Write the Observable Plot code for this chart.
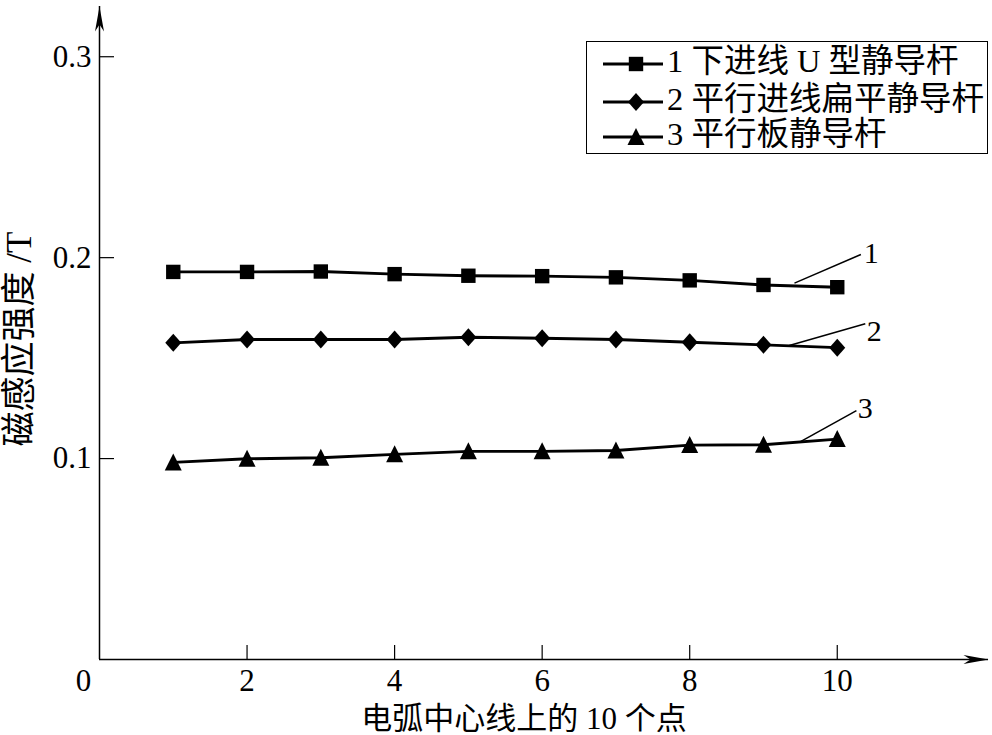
<!DOCTYPE html>
<html><head><meta charset="utf-8">
<script src="https://cdn.jsdelivr.net/npm/d3@7"></script>
<script src="https://cdn.jsdelivr.net/npm/@observablehq/plot@0.6"></script>
<style>
body{margin:0;background:#fff;}
#wrap{position:relative;width:992px;height:735px;overflow:hidden;}
#wrap svg{color:#000;}
.lg{position:absolute;left:586px;top:41px;width:402px;height:113px;border:1.5px solid #000;box-sizing:border-box;background:#fff;}
.lg .row{position:absolute;left:0;height:36px;width:400px;}
.lg .row svg{position:absolute;left:12px;top:0;}
.lg .row span{position:absolute;left:80px;top:-3px;line-height:36px;font-family:"Liberation Serif","Noto Sans CJK SC",serif;font-size:32.5px;white-space:pre;color:#000;}
</style></head><body><div id="wrap"></div>
<script>
// ---- data ----
const points = [1, 2, 3, 4, 5, 6, 7, 8, 9, 10];
const series1 = [0.1929, 0.1929, 0.1931, 0.1918, 0.1910, 0.1908, 0.1902, 0.1887, 0.1864, 0.1853];
const series2 = [0.1576, 0.1593, 0.1593, 0.1593, 0.1604, 0.1599, 0.1593, 0.1579, 0.1566, 0.1552];
const series3 = [0.0981, 0.0999, 0.1004, 0.1021, 0.1036, 0.1036, 0.1040, 0.1067, 0.1069, 0.1097];
const seriesNames = ["1 下进线 U 型静导杆", "2 平行进线扁平静导杆", "3 平行板静导杆"];
const xTicks = [2, 4, 6, 8, 10];
const yTicks = [0.1, 0.2, 0.3];
const xMax = 12.05, yMax = 0.325;
const xLabel = "电弧中心线上的 10 个点";
const yLabel = "磁感应强度 /T";
const calloutLabels = ["1", "2", "3"];
const calloutFrom = [[9.42, 0.1873], [9.35, 0.1563], [9.49, 0.1082]];
const calloutTo = [[10.32, 0.2016], [10.38, 0.1671], [10.26, 0.1239]];
const calloutText = [[10.46, 0.2021], [10.50, 0.1633], [10.38, 0.1249]];

// ---- symbols ----
const sqSym = {draw(c){ const h = 7.2; c.moveTo(-h,-h); c.lineTo(h,-h); c.lineTo(h,h); c.lineTo(-h,h); c.closePath(); }};
const diaSym = {draw(c){ c.moveTo(0,-9); c.lineTo(8,0); c.lineTo(0,9); c.lineTo(-8,0); c.closePath(); }};
const triSym = {draw(c){ c.moveTo(0,-9); c.lineTo(8.5,8); c.lineTo(-8.5,8); c.closePath(); }};
const arrowRight = {draw(c){ c.moveTo(0,0); c.lineTo(-25,-4.5); c.lineTo(-18,0); c.lineTo(-25,4.5); c.closePath(); }};
const arrowUp = {draw(c){ c.moveTo(0,0); c.lineTo(-4.5,25); c.lineTo(0,18); c.lineTo(4.5,25); c.closePath(); }};
const symbols = [sqSym, diaSym, triSym];
const allSeries = [series1, series2, series3];

const data = allSeries.flatMap((s, i) => s.map((v, j) => ({x: points[j], y: v, series: seriesNames[i], k: i})));
const callouts = calloutLabels.map((t, i) => ({t, x1: calloutFrom[i][0], y1: calloutFrom[i][1], x2: calloutTo[i][0], y2: calloutTo[i][1], tx: calloutText[i][0], ty: calloutText[i][1]}));

const FONT = "Liberation Serif, Noto Sans CJK SC, serif";

const chart = Plot.plot({
  width: 992, height: 735,
  marginLeft: 99, marginRight: 4, marginTop: 6, marginBottom: 76,
  style: {fontFamily: FONT, background: "#fff", color: "#000"},
  x: {domain: [0, xMax], axis: null},
  y: {domain: [0, yMax], axis: null},
  marks: [
    Plot.ruleY([0], {stroke: "black", strokeWidth: 1.5}),
    Plot.ruleX([0], {stroke: "black", strokeWidth: 1.5}),
    Plot.dot([xMax], {x: d => d, y: 0, symbol: arrowRight, fill: "black", stroke: null}),
    Plot.dot([yMax], {x: 0, y: d => d, symbol: arrowUp, fill: "black", stroke: null}),
    Plot.axisX({ticks: xTicks, tickSize: -14, tickPadding: 23, fontSize: 31, fontFamily: FONT, label: null, strokeWidth: 1.2}),
    Plot.text([0], {x: d => d, y: 0, text: d => String(d), dx: -16, dy: 9, lineAnchor: "top", fontSize: 31, fontFamily: FONT}),
    Plot.axisY({ticks: yTicks, tickSize: -15, tickPadding: 23, fontSize: 31, fontFamily: FONT, label: null, strokeWidth: 1.2, tickFormat: d => d.toFixed(1)}),
    Plot.text([xLabel], {frameAnchor: "bottom", dx: -20, dy: 69, text: d => d, fontSize: 31, fontFamily: FONT}),
    Plot.text([yLabel], {frameAnchor: "left", textAnchor: "middle", dx: -80, dy: 6, rotate: -90, text: d => d, fontSize: 35, fontFamily: FONT}),
    Plot.line(data, {x: "x", y: "y", z: "series", stroke: "black", strokeWidth: 2.9}),
    ...symbols.map((sym, i) => Plot.dot(data.filter(d => d.k === i), {x: "x", y: "y", symbol: sym, fill: "black", stroke: null})),
    Plot.link(callouts, {x1: "x1", y1: "y1", x2: "x2", y2: "y2", stroke: "black", strokeWidth: 1.5}),
    Plot.text(callouts, {x: "tx", y: "ty", text: "t", fontSize: 30, fontFamily: FONT})
  ]
});
const wrap = document.getElementById("wrap");
wrap.appendChild(chart);

// ---- legend ----
const lg = document.createElement("div");
lg.className = "lg";
const rowTops = [4, 42, 77];
seriesNames.forEach((name, i) => {
  const row = document.createElement("div");
  row.className = "row";
  row.style.top = rowTops[i] + "px";
  const p = d3.path(); symbols[i].draw(p);
  row.innerHTML = `<svg width="70" height="36"><line x1="4" x2="64" y1="18" y2="18" stroke="black" stroke-width="2.9"/><path transform="translate(37,18)" d="${p.toString()}" fill="black"/></svg><span>${name}</span>`;
  lg.appendChild(row);
});
wrap.appendChild(lg);
</script>
</body></html>
